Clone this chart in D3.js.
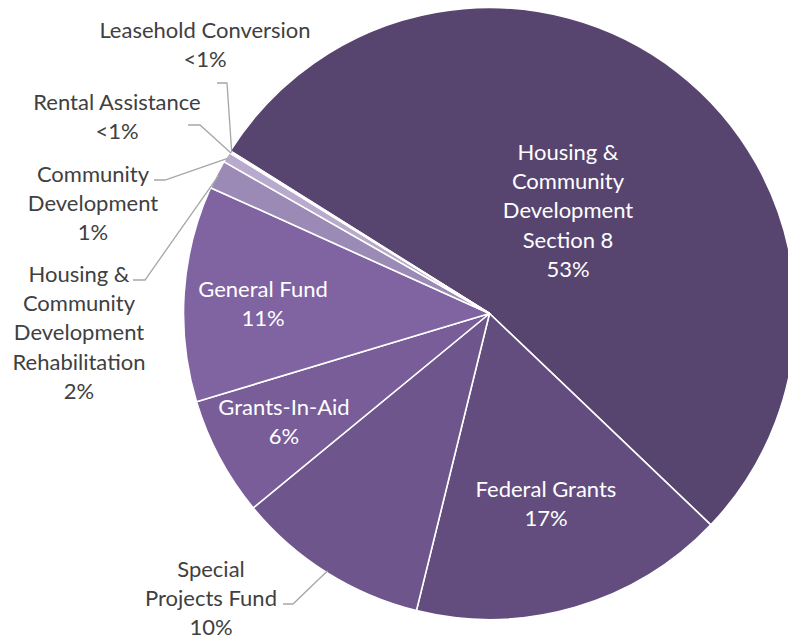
<!DOCTYPE html>
<html>
<head>
<meta charset="utf-8">
<script src="https://cdn.jsdelivr.net/npm/d3@7"></script>
<style>
  html, body { margin: 0; padding: 0; background: #ffffff; }
  svg { display: block; }
  text { font-family: Lato, "Open Sans", sans-serif; }
</style>
</head>
<body>
<svg id="chart" width="788" height="642"></svg>
<script>
// Funding sources, listed clockwise from the Section 8 slice
const categories = [
  "Housing &\nCommunity\nDevelopment\nSection 8",
  "Federal Grants",
  "Special\nProjects Fund",
  "Grants-In-Aid",
  "General Fund",
  "Housing &\nCommunity\nDevelopment\nRehabilitation",
  "Community\nDevelopment",
  "Rental Assistance",
  "Leasehold Conversion"
];
// Share of the total, in percent
const shares = [53.2, 16.7, 10.2, 6.3, 11.4, 1.52, 0.55, 0.05, 0.05];
const sliceColors = ["#574570", "#634d7e", "#6e568c", "#785d99", "#8064a2", "#9c8ab6", "#b8aacc", "#d2c9df", "#e6e1ee"];

// Label placement: anchor x, first baseline y, inside/outside, leader elbow (outside labels only)
const labelLayout = [
  { x: 568, y: 160, inside: true },
  { x: 546, y: 497, inside: true },
  { x: 211, y: 577, inside: false, leader: [[283, 604], [293, 604]] },
  { x: 284, y: 415, inside: true },
  { x: 263, y: 297, inside: true },
  { x: 79,  y: 282, inside: false, leader: [[133, 280], [145, 280]] },
  { x: 93,  y: 182, inside: false, leader: [[154, 180], [165, 180]] },
  { x: 117, y: 110, inside: false, leader: [[188, 125], [200, 125]] },
  { x: 205, y: 38,  inside: false, leader: [[217, 83], [227, 83]] }
];

const cx = 489.5, cy = 313.5, radius = 306, lineStep = 29.2;
const startDeg = 302.1;

const rows = categories.map((c, i) => ({ name: c, value: shares[i], color: sliceColors[i], layout: labelLayout[i] }));

const pie = d3.pie()
  .sort(null)
  .value(d => d.value)
  .startAngle(startDeg * Math.PI / 180)
  .endAngle(startDeg * Math.PI / 180 + 2 * Math.PI);

const arc = d3.arc().innerRadius(0).outerRadius(radius);
const rim = d3.arc().innerRadius(radius - 2).outerRadius(radius - 2);

const svg = d3.select("#chart");
const g = svg.append("g").attr("transform", `translate(${cx},${cy})`);

const arcs = pie(rows);

g.selectAll("path.slice")
  .data(arcs)
  .join("path")
  .attr("class", "slice")
  .attr("d", arc)
  .attr("fill", d => d.data.color)
  .attr("stroke", "#ffffff")
  .attr("stroke-width", 1.6)
  .attr("stroke-linejoin", "round");

// Whole percent, with very small shares shown as "<1%"
const fmt = v => v < 0.5 ? "<1%" : Math.round(v) + "%";

// Leader lines for the labels set outside the pie
const leaders = svg.append("g");
arcs.filter(d => !d.data.layout.inside).forEach(d => {
  const [ex, ey] = rim.centroid(d);
  const pts = d.data.layout.leader.concat([[cx + ex, cy + ey]]);
  leaders.append("polyline")
    .attr("points", pts.map(p => p.join(",")).join(" "))
    .attr("fill", "none")
    .attr("stroke", "#a6a6a6")
    .attr("stroke-width", 1.3);
});

// Category name and percentage labels
const labels = svg.append("g");
arcs.forEach(d => {
  const L = d.data.layout;
  const lines = d.data.name.split("\n").concat([fmt(d.data.value)]);
  const t = labels.append("text")
    .attr("text-anchor", "middle")
    .attr("font-size", 22)
    .attr("fill", L.inside ? "#ffffff" : "#404040");
  lines.forEach((ln, k) => {
    t.append("tspan").attr("x", L.x).attr("y", L.y + k * lineStep).text(ln);
  });
});
</script>
</body>
</html>
